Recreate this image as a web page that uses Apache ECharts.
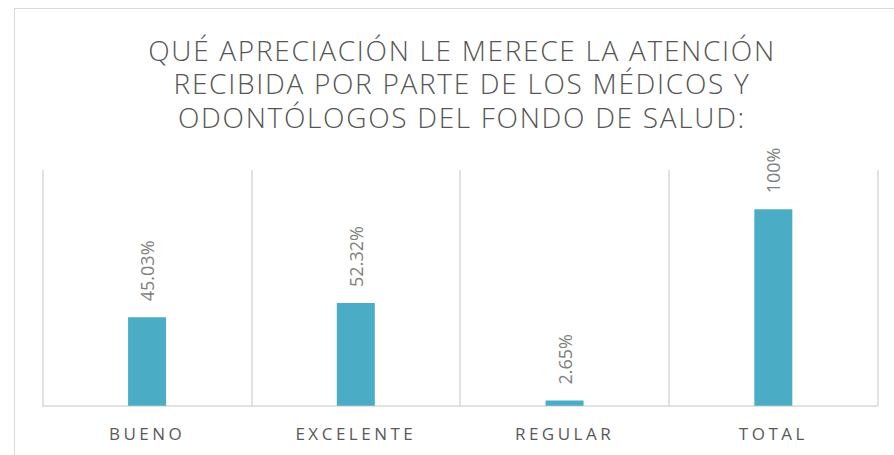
<!DOCTYPE html>
<html>
<head>
<meta charset="utf-8">
<script src="https://cdn.jsdelivr.net/npm/echarts@6/dist/echarts.min.js"></script>
<style>
html,body{margin:0;padding:0;background:#fff;}
#chart{width:894px;height:455px;}
#chart text[style*="28px"]{letter-spacing:1.7px;}
#chart text[style*="17px"]{letter-spacing:3.5px;}
</style>
</head>
<body>
<div id="chart"></div>
<script>
const titleText = 'QUÉ APRECIACIÓN LE MERECE LA ATENCIÓN\nRECIBIDA POR PARTE DE LOS MÉDICOS Y\nODONTÓLOGOS DEL FONDO DE SALUD:';
const categories = ['BUENO', 'EXCELENTE', 'REGULAR', 'TOTAL'];
const values = [45.03, 52.32, 2.65, 100];
const valueLabels = ['45.03%', '52.32%', '2.65%', '100%'];

const chart = echarts.init(document.getElementById('chart'), null, {renderer: 'svg'});
chart.setOption({
  animation: false,
  backgroundColor: '#ffffff',
  title: {
    text: titleText,
    left: 462,
    textAlign: 'center',
    top: 33,
    padding: 0,
    textStyle: {
      fontFamily: 'Open Sans',
      fontSize: 28,
      fontWeight: 300,
      color: '#555555',
      lineHeight: 33.5
    }
  },
  graphic: [{
    type: 'rect',
    shape: {x: 14.5, y: 8.5, width: 1000, height: 1000},
    style: {fill: 'none', stroke: '#d9d9d9', lineWidth: 1},
    silent: true,
    z: -10
  }],
  grid: {left: 42.7, right: 16.3, top: 170, bottom: 49.3, containLabel: false},
  xAxis: {
    type: 'category',
    data: categories,
    boundaryGap: true,
    axisLine: {show: true, lineStyle: {color: '#d9d9d9', width: 1.5}},
    axisTick: {show: false},
    splitLine: {show: true, lineStyle: {color: '#d9d9d9', width: 1.5}},
    axisLabel: {
      margin: 19,
      fontFamily: 'Open Sans',
      fontSize: 17,
      color: '#595959'
    }
  },
  yAxis: {
    type: 'value',
    min: 0,
    max: 120,
    show: false,
    splitLine: {show: false}
  },
  series: [{
    type: 'bar',
    data: values,
    barWidth: 38,
    itemStyle: {color: '#4bacc6'},
    label: {
      show: true,
      position: 'top',
      rotate: 90,
      align: 'left',
      verticalAlign: 'middle',
      distance: 16,
      fontFamily: 'Open Sans',
      fontSize: 18,
      fontWeight: 'normal',
      color: '#808080',
      formatter: p => valueLabels[p.dataIndex]
    }
  }]
});
</script>
</body>
</html>
